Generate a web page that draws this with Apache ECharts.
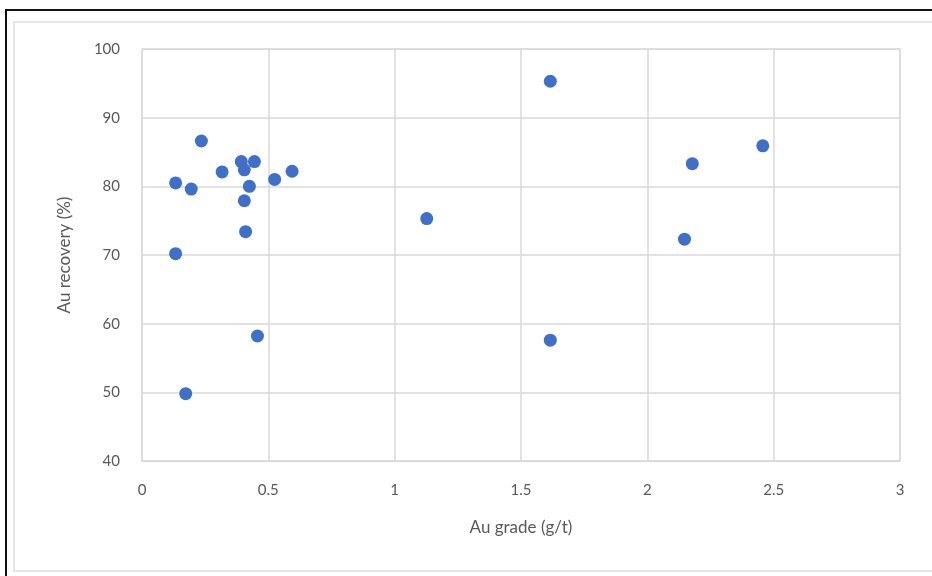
<!DOCTYPE html>
<html>
<head>
<meta charset="utf-8">
<script src="https://cdn.jsdelivr.net/npm/echarts@6/dist/echarts.min.js"></script>
<style>
html,body{margin:0;padding:0;background:#fff;}
#chart{width:932px;height:576px;}
</style>
</head>
<body>
<div id="chart"></div>
<script>
const auGrade = [0.235, 0.133, 0.195, 0.317, 0.393, 0.445, 0.405, 0.425, 0.405, 0.41, 0.525, 0.594, 0.133, 0.457, 0.173, 1.127, 1.616, 1.616, 2.147, 2.178, 2.457];
const auRecovery = [86.6, 80.5, 79.6, 82.1, 83.6, 83.6, 82.4, 80.0, 77.9, 73.4, 81.0, 82.2, 70.2, 58.2, 49.8, 75.3, 95.3, 57.6, 72.3, 83.3, 85.9];
const xTitle = 'Au grade (g/t)';
const yTitle = 'Au recovery (%)';

const points = auGrade.map((g, i) => [g, auRecovery[i]]);
const fontFamily = 'Lato, "Open Sans", sans-serif';

const chart = echarts.init(document.getElementById('chart'));
chart.setOption({
  animation: false,
  backgroundColor: '#fff',
  graphic: [
    { type: 'rect', shape: { x: 14, y: 22, width: 940, height: 549 }, style: { fill: 'none', stroke: '#e6e6e6', lineWidth: 2 }, silent: true },
    { type: 'rect', shape: { x: 6, y: 10, width: 940, height: 600 }, style: { fill: 'none', stroke: '#111', lineWidth: 2 }, silent: true }
  ],
  grid: { left: 142, right: 32, top: 49, bottom: 115, show: true, borderColor: '#d9d9d9', borderWidth: 1 },
  xAxis: {
    type: 'value', min: 0, max: 3, interval: 0.5,
    name: xTitle, nameLocation: 'middle', nameGap: 58,
    nameTextStyle: { color: '#595959', fontSize: 17, fontFamily },
    axisLine: { show: true, lineStyle: { color: '#d9d9d9' } },
    axisTick: { show: false },
    axisLabel: { color: '#595959', fontSize: 15, fontFamily, margin: 22 },
    splitLine: { show: true, lineStyle: { color: '#d9d9d9', width: 1.5 } }
  },
  yAxis: {
    type: 'value', min: 40, max: 100, interval: 10,
    name: yTitle, nameLocation: 'middle', nameGap: 69,
    nameTextStyle: { color: '#595959', fontSize: 17, fontFamily },
    axisLine: { show: false },
    axisTick: { show: false },
    axisLabel: { color: '#595959', fontSize: 15, fontFamily, margin: 22 },
    splitLine: { show: true, lineStyle: { color: '#d9d9d9', width: 1.5 } }
  },
  series: [{
    type: 'scatter',
    data: points,
    symbol: 'circle',
    symbolSize: 13,
    itemStyle: { color: '#3F6FC6', opacity: 1 }
  }]
});
</script>
</body>
</html>
